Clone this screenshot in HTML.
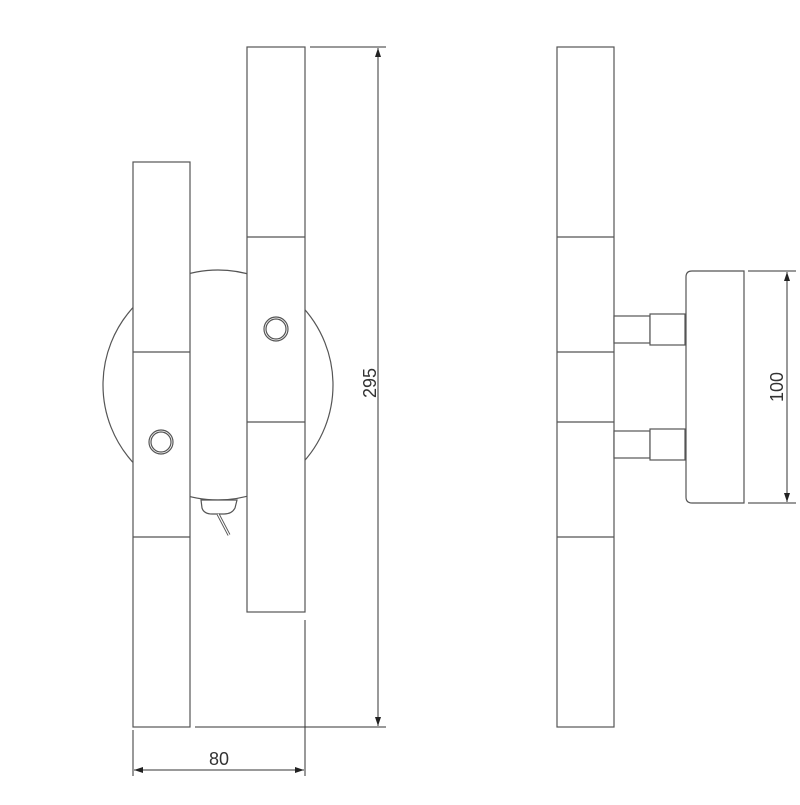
<!DOCTYPE html>
<html><head><style>body{margin:0;background:#fff}</style></head><body>
<svg width="800" height="800" xmlns="http://www.w3.org/2000/svg" font-family="Liberation Sans, sans-serif">
<defs><marker id="a" markerWidth="10" markerHeight="10" refX="9" refY="5" orient="auto-start-reverse" markerUnits="userSpaceOnUse"><path d="M0,2 L9,5 L0,8 Z" fill="#222"/></marker></defs>
<g fill="#fff" stroke="#555" stroke-width="1.2">
<circle cx="218" cy="385" r="115"/>
<rect x="133" y="162" width="57" height="565"/>
<line x1="133" y1="352" x2="190" y2="352"/><line x1="133" y1="537" x2="190" y2="537"/>
<circle cx="161" cy="442" r="12"/><circle cx="161" cy="442" r="10"/>
<rect x="247" y="47" width="58" height="565"/>
<line x1="247" y1="237" x2="305" y2="237"/><line x1="247" y1="422" x2="305" y2="422"/>
<circle cx="276" cy="329" r="12"/><circle cx="276" cy="329" r="10"/>
<path d="M201,500 L237,500 L235,508 Q232,514 224,514 L212,514 Q204,514 202,508 Z"/>
<path d="M218,514 L229,535" stroke-width="3" stroke="#555"/>
<path d="M218,514 L229,535" stroke-width="1.2" stroke="#fff"/>
<rect x="557" y="47" width="57" height="680"/>
<line x1="557" y1="237" x2="614" y2="237"/><line x1="557" y1="352" x2="614" y2="352"/>
<line x1="557" y1="422" x2="614" y2="422"/><line x1="557" y1="537" x2="614" y2="537"/>
<rect x="614" y="316" width="36" height="27"/><rect x="650" y="314" width="35" height="31"/>
<rect x="614" y="431" width="36" height="27"/><rect x="650" y="429" width="35" height="31"/>
<path d="M692,271 L744,271 L744,503 L692,503 Q686,503 686,497 L686,277 Q686,271 692,271 Z"/>
</g>
<g stroke="#333" stroke-width="1" fill="none">
<line x1="310" y1="47" x2="386" y2="47"/><line x1="195" y1="727" x2="386" y2="727"/>
<line x1="378" y1="48" x2="378" y2="726" marker-start="url(#a)" marker-end="url(#a)"/>
<line x1="133" y1="730" x2="133" y2="776"/><line x1="305" y1="620" x2="305" y2="776"/>
<line x1="134" y1="770" x2="304" y2="770" marker-start="url(#a)" marker-end="url(#a)"/>
<line x1="748" y1="271" x2="796" y2="271"/><line x1="748" y1="503" x2="796" y2="503"/>
<line x1="787" y1="272" x2="787" y2="502" marker-start="url(#a)" marker-end="url(#a)"/>
</g>
<g fill="#333" font-size="18">
<text x="219" y="765" text-anchor="middle">80</text>
<text transform="translate(376,383) rotate(-90)" text-anchor="middle">295</text>
<text transform="translate(783,387) rotate(-90)" text-anchor="middle">100</text>
</g>
</svg>
</body></html>
